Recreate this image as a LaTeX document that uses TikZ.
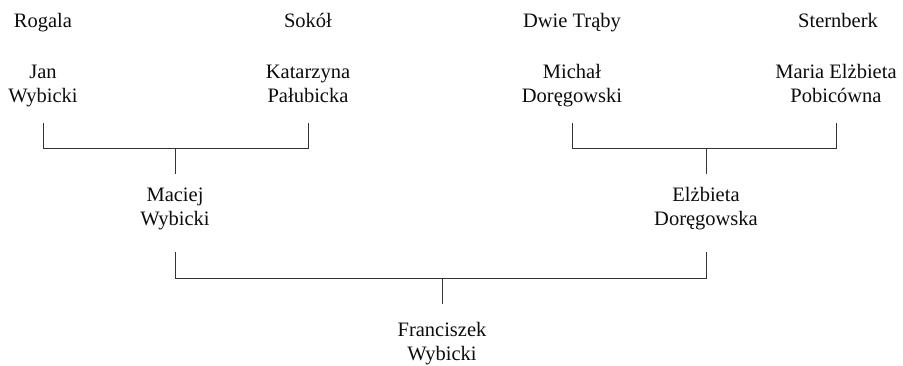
\documentclass[tikz,border=0pt]{standalone}
\usepackage{fontspec}
\setmainfont{Liberation Serif}
\begin{document}
\begin{tikzpicture}[x=1pt,y=-1pt,
  every node/.style={inner sep=0pt, outer sep=0pt, text=black!95, font=\fontsize{20.5}{24}\selectfont},
  person/.style={align=center, anchor=base},
  conn/.style={draw=black!80, line width=0.9pt}]
\useasboundingbox[fill=white] (0,0) rectangle (903,365);
% coats of arms
\node[person] (rogala) at (43,27) {Rogala};
\node[person] (sokol) at (308,27) {Sokół};
\node[person] (trab) at (572,27) {Dwie Trąby};
\node[person] (stern) at (838,27) {Sternberk};
% persons
\node[person] (jan) at (43,102) {Jan\\Wybicki};
\node[person] (kat) at (308,102) {Katarzyna\\Pałubicka};
\node[person] (mich) at (572,102) {Michał\\Doręgowski};
\node[person] (maria) at (836,102) {Maria Elżbieta\\Pobicówna};
\node[person] (mac) at (175,225) {Maciej\\Wybicki};
\node[person] (elz) at (706,225) {Elżbieta\\Doręgowska};
\node[person] (fran) at (442,360) {Franciszek\\Wybicki};
% connectors
\draw[conn] (jan |- 0,123) -- (jan |- 0,148) -- (kat |- 0,148) -- (kat |- 0,123);
\draw[conn] (mac |- 0,148) -- (mac |- 0,174);
\draw[conn] (mich |- 0,123) -- (mich |- 0,148) -- (maria |- 0,148) -- (maria |- 0,123);
\draw[conn] (elz |- 0,148) -- (elz |- 0,174);
\draw[conn] (mac |- 0,252) -- (mac |- 0,278) -- (elz |- 0,278) -- (elz |- 0,252);
\draw[conn] (fran |- 0,278) -- (fran |- 0,304);
\end{tikzpicture}
\end{document}
